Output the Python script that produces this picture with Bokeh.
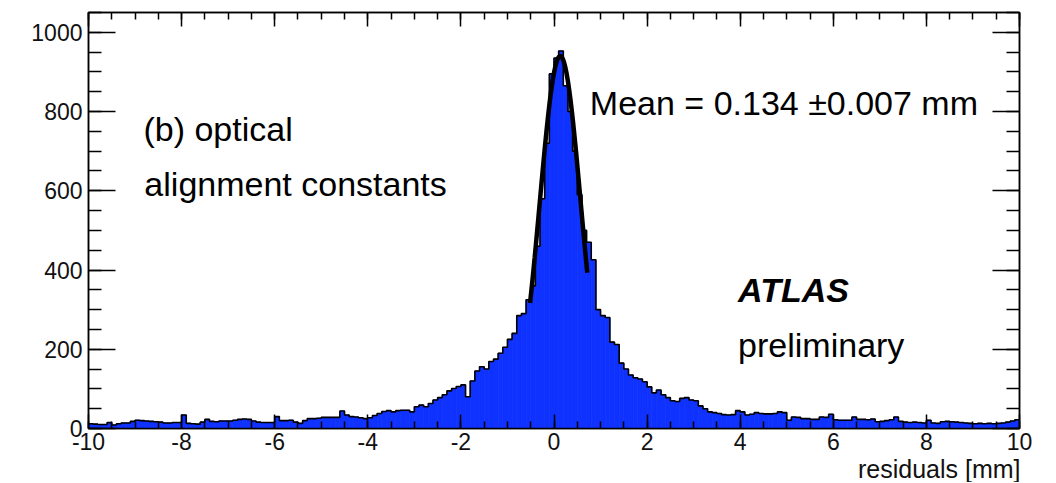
import numpy as np
from bokeh.plotting import figure
from bokeh.models import Range1d, LinearAxis, SingleIntervalTicker, Label, Title
from bokeh.embed import file_html
from bokeh.resources import INLINE

# ---- data ----
bin_lo = -10.0
bin_width = 0.1
counts = [
    12, 11, 10, 10, 15, 9, 12, 14, 14, 18,        # -10.0 .. -9.1
    21, 20, 19, 18, 17, 16, 14, 14, 15, 15,       # -9.0 .. -8.1
    34, 13, 12, 11, 16, 23, 18, 17, 19, 19,       # -8.0 .. -7.1
    19, 21, 23, 24, 23, 19, 16, 15, 15, 15,       # -7.0 .. -6.1
    30, 20, 20, 21, 16, 13, 20, 25, 25, 26,       # -6.0 .. -5.1
    28, 28, 28, 28, 44, 34, 30, 29, 27, 25,       # -5.0 .. -4.1
    27, 33, 38, 43, 45, 42, 45, 46, 46, 42,       # -4.0 .. -3.1
    55, 59, 55, 63, 72, 78, 85, 95, 101, 106,     # -3.0 .. -2.1
    110, 80, 120, 145, 156, 150, 169, 175, 190, 205,  # -2.0 .. -1.1
    225, 240, 285, 290, 325, 360, 460, 580, 720, 895, # -1.0 .. -0.1
    935, 953, 865, 800, 700, 590, 500, 470, 426, 300, # 0.0 .. 0.9
    285, 280, 218, 212, 165, 150, 135, 128, 125, 118, # 1.0 .. 1.9
    105, 90, 97, 85, 78, 70, 68, 76, 78, 72,      # 2.0 .. 2.9
    70, 57, 50, 42, 40, 38, 35, 34, 35, 45,       # 3.0 .. 3.9
    42, 34, 36, 40, 38, 37, 37, 38, 42, 40,       # 4.0 .. 4.9
    21, 29, 28, 25, 25, 23, 23, 29, 28, 36,       # 5.0 .. 5.9
    22, 21, 21, 21, 29, 23, 23, 22, 24, 17,       # 6.0 .. 6.9
    18, 20, 22, 29, 18, 16, 15, 16, 15, 14,       # 7.0 .. 7.9
    21, 14, 13, 17, 18, 17, 16, 15, 14, 13,       # 8.0 .. 8.9
    12, 13, 12, 13, 12, 13, 14, 16, 19, 22,       # 9.0 .. 9.9
]

# Gaussian fit parameters
fit_const = 940.0
fit_mean = 0.134
fit_sigma = 0.44
fit_range = (-0.515, 0.715)

x_ticks = [-10, -8, -6, -4, -2, 0, 2, 4, 6, 8, 10]
x_tick_labels = ["-10", "-8", "-6", "-4", "-2", "0", "2", "4", "6", "8", "10"]
y_ticks = [0, 200, 400, 600, 800, 1000]
y_tick_labels = ["0", "200", "400", "600", "800", "1000"]

x_title = "residuals [mm]"
text_b = "(b) optical"
text_align = "alignment constants"
text_mean = "Mean = 0.134 \u00b10.007 mm"
text_atlas = "ATLAS"
text_prelim = "preliminary"

# ---- derived ----
counts = np.array(counts, dtype=float)
edges = np.round(bin_lo + bin_width * np.arange(len(counts) + 1), 3)

FONT = "Liberation Sans"
BLUE = "#0f32ff"

p = figure(frame_width=931, frame_height=416,
           min_border_left=88, min_border_right=21,
           min_border_top=12, min_border_bottom=20,
           x_range=Range1d(-10, 10), y_range=Range1d(0, 1050),
           output_backend="svg", toolbar_location=None,
           background_fill_color="white", border_fill_color="white")
p.outline_line_color = "black"
p.outline_line_width = 1.5
p.xgrid.visible = False
p.ygrid.visible = False

# histogram fill
p.quad(left=edges[:-1], right=edges[1:], bottom=0, top=counts,
       fill_color=BLUE, line_color=BLUE, line_width=0.8)
# histogram outline
step_x = np.append(edges[:-1], edges[-1])
step_y = np.append(counts, counts[-1])
p.step(x=step_x, y=step_y, mode="after", line_color="black", line_width=1.6)

# fit curve
fx = np.linspace(fit_range[0], fit_range[1], 200)
fy = fit_const * np.exp(-0.5 * ((fx - fit_mean) / fit_sigma) ** 2)
p.line(fx, fy, line_color="black", line_width=4.5)

def style_axis(ax, ticks, labels, major, minor, show_labels):
    ax.ticker = SingleIntervalTicker(interval=ticks[1] - ticks[0], num_minor_ticks=4)
    ax.major_tick_in = major
    ax.major_tick_out = 0
    ax.minor_tick_in = minor
    ax.minor_tick_out = 0
    ax.major_tick_line_color = "black"
    ax.minor_tick_line_color = "black"
    ax.major_tick_line_width = 1.5
    ax.minor_tick_line_width = 1.5
    ax.axis_line_color = "black"
    ax.axis_line_width = 1.5
    if show_labels:
        ax.major_label_overrides = {t: l for t, l in zip(ticks, labels)}
        ax.major_label_text_font = FONT
        ax.major_label_text_font_size = "23px"
        ax.major_label_text_color = "#111111"
        ax.major_label_standoff = 4
    else:
        ax.major_label_overrides = {t: "" for t in ticks}
        ax.major_label_standoff = 0
        ax.major_label_text_font_size = "1px"

style_axis(p.xaxis[0], x_ticks, x_tick_labels, 14, 7, True)
style_axis(p.yaxis[0], y_ticks, y_tick_labels, 27, 13, True)
p.yaxis[0].major_label_standoff = 6

top_ax = LinearAxis()
style_axis(top_ax, x_ticks, x_tick_labels, 14, 7, False)
p.add_layout(top_ax, "above")
right_ax = LinearAxis()
style_axis(right_ax, y_ticks, y_tick_labels, 27, 13, False)
p.add_layout(right_ax, "right")

p.add_layout(Title(text=x_title, align="right", text_font=FONT,
                   text_font_size="25px", text_font_style="normal",
                   text_color="#111111", standoff=0, offset=-1), "below")

def add_text(x, y, txt, size="34px", style="normal", align="left"):
    p.add_layout(Label(x=x, y=y, text=txt, text_font=FONT, text_font_size=size,
                       text_font_style=style, text_color="black",
                       text_align=align, text_baseline="alphabetic"))

add_text(-8.82, 755, text_b)
add_text(-8.80, 618, text_align)
add_text(0.77, 821, text_mean)
add_text(3.955, 350, text_atlas, style="bold italic")
add_text(3.955, 211, text_prelim)

open("out.html", "w").write(file_html(p, INLINE))
